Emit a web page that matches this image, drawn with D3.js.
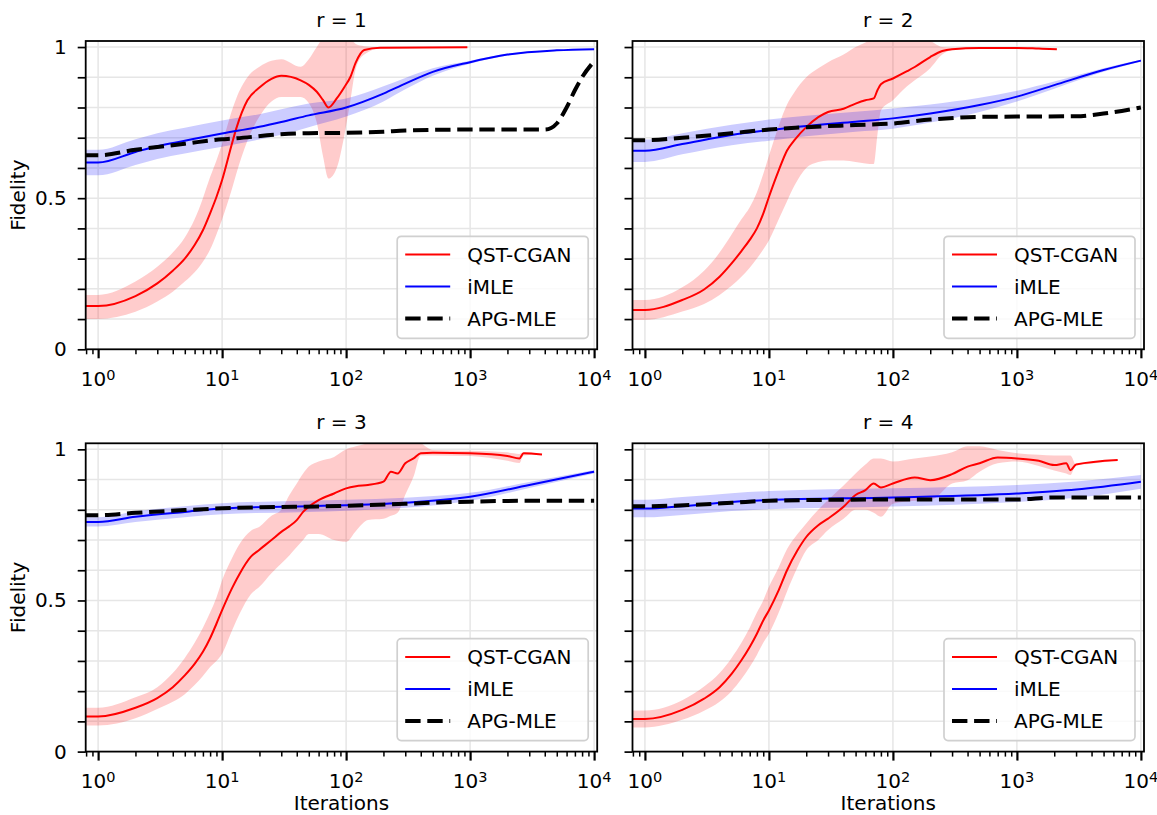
<!DOCTYPE html>
<html><head><meta charset="utf-8">
<script src="https://cdnjs.cloudflare.com/ajax/libs/d3/7.8.5/d3.min.js"></script>
<style>
body{margin:0;background:#fff;}
svg{display:block;}
text{font-family:"DejaVu Sans",sans-serif;fill:#000;}
</style>
</head><body>
<svg id="c" width="1157" height="815"></svg>
<script>
// ---------------- DATA ----------------
const panelTitles = ["r = 1", "r = 2", "r = 3", "r = 4"];
const seriesNames = ["QST-CGAN", "iMLE", "APG-MLE"];
const xTickExponents = [0, 1, 2, 3, 4];
const yTickValues = [0, 0.1, 0.2, 0.3, 0.4, 0.5, 0.6, 0.7, 0.8, 0.9, 1.0];
const yTickLabels = {0: "0", 0.5: "0.5", 1: "1"};

// QST-CGAN rows: [iteration, mean, lower, upper]
const qstR1 = [
 [0.5,0.143,0.10,0.18],[1,0.143,0.10,0.18],[2,0.176,0.124,0.224],[3,0.218,0.158,0.273],
 [4,0.26,0.19,0.32],[5,0.30,0.224,0.37],[6,0.345,0.255,0.43],[7,0.394,0.29,0.50],
 [8,0.45,0.33,0.57],[9,0.504,0.38,0.625],[10,0.56,0.43,0.68],[12,0.68,0.53,0.79],
 [13,0.73,0.58,0.83],[16,0.824,0.69,0.90],[20,0.866,0.77,0.935],[25,0.895,0.82,0.955],
 [30,0.905,0.835,0.96],[43,0.89,0.835,0.935],[50,0.875,0.815,0.96],[58,0.852,0.75,1.0],
 [65,0.825,0.64,1.03],[72,0.80,0.565,1.04],[84,0.83,0.60,1.04],[97,0.868,0.71,1.04],
 [108,0.90,0.82,1.03],[120,0.95,0.93,1.01],[140,0.99,0.975,1.003],[188,0.998,0.995,1.0],
 [950,0.999,0.998,1.0]
];
const qstR2 = [
 [0.5,0.13,0.097,0.163],[1,0.13,0.097,0.163],[2,0.163,0.125,0.205],[3,0.198,0.15,0.26],
 [4,0.24,0.18,0.32],[5,0.284,0.21,0.38],[6,0.325,0.24,0.43],[7,0.362,0.27,0.47],
 [8,0.40,0.30,0.52],[9,0.449,0.33,0.58],[10,0.504,0.36,0.64],[12,0.592,0.43,0.74],
 [14,0.658,0.49,0.81],[16,0.691,0.54,0.85],[20,0.735,0.60,0.90],[25,0.768,0.62,0.93],
 [30,0.785,0.625,0.95],[40,0.796,0.625,0.975],[50,0.813,0.62,1.0],[60,0.824,0.615,1.015],
 [70,0.83,0.613,1.03],[75,0.857,0.71,1.03],[80,0.877,0.79,1.03],[100,0.896,0.824,1.03],
 [130,0.92,0.87,1.03],[150,0.934,0.89,1.03],[200,0.967,0.93,1.02],[250,0.987,0.975,1.0],
 [300,0.993,0.99,0.998],[500,0.997,0.995,0.999],[1000,0.997,0.995,0.999],
 [1500,0.995,0.993,0.997],[2100,0.993,0.992,0.994]
];
const qstR3 = [
 [0.5,0.116,0.086,0.145],[1,0.116,0.086,0.145],[2,0.145,0.11,0.18],[3,0.177,0.141,0.213],
 [4,0.213,0.165,0.26],[5,0.252,0.19,0.31],[6,0.29,0.22,0.36],[7,0.33,0.25,0.41],
 [8,0.375,0.28,0.46],[9,0.423,0.30,0.51],[10,0.468,0.324,0.567],[12,0.54,0.40,0.64],
 [14,0.592,0.46,0.69],[17,0.644,0.52,0.73],[20,0.668,0.545,0.744],[25,0.70,0.59,0.78],
 [30,0.727,0.622,0.80],[35,0.746,0.65,0.85],[40,0.766,0.677,0.887],[45,0.793,0.70,0.92],
 [50,0.81,0.72,0.943],[60,0.832,0.72,0.96],[80,0.854,0.70,0.975],[100,0.871,0.694,1.0],
 [120,0.878,0.73,1.01],[150,0.882,0.766,1.02],[200,0.893,0.77,1.03],[230,0.926,0.78,1.03],
 [260,0.92,0.79,1.03],[300,0.954,0.85,1.03],[350,0.97,0.91,1.03],[400,0.987,0.98,1.02],
 [500,0.989,0.98,0.998],[1000,0.987,0.978,0.995],[2000,0.978,0.962,0.99],
 [2500,0.97,0.955,0.985],[2700,0.987,0.98,0.99],[3800,0.983,0.983,0.983]
];
const qstR4 = [
 [0.5,0.108,0.08,0.136],[1,0.108,0.08,0.136],[2,0.138,0.105,0.17],[3,0.175,0.135,0.215],
 [4,0.213,0.165,0.26],[5,0.257,0.20,0.31],[6,0.302,0.24,0.36],[7,0.346,0.28,0.41],
 [8,0.39,0.32,0.46],[9,0.434,0.36,0.50],[10,0.467,0.39,0.545],[12,0.534,0.46,0.61],
 [14,0.60,0.53,0.67],[17,0.666,0.61,0.72],[20,0.71,0.666,0.755],[25,0.749,0.70,0.80],
 [30,0.771,0.733,0.832],[40,0.81,0.77,0.88],[50,0.849,0.80,0.92],[60,0.865,0.80,0.95],
 [70,0.887,0.79,0.97],[80,0.874,0.777,0.97],[100,0.887,0.82,0.96],[150,0.907,0.83,0.97],
 [200,0.898,0.832,0.976],[300,0.918,0.887,0.99],[400,0.943,0.898,1.01],[500,0.954,0.926,1.01],
 [700,0.973,0.954,0.998],[1000,0.97,0.96,0.987],[1500,0.962,0.945,0.982],[2000,0.948,0.93,0.98],
 [2500,0.954,0.92,0.98],[2700,0.931,0.915,0.98],[3000,0.95,0.95,0.95],[6500,0.965,0.965,0.965]
];

// iMLE rows: [iteration, mean, lower, upper]
const imleR1 = [
 [0.5,0.618,0.576,0.66],[1,0.618,0.576,0.66],[2,0.653,0.61,0.695],[3,0.672,0.63,0.715],
 [5,0.69,0.648,0.733],[10,0.714,0.67,0.757],[20,0.736,0.694,0.778],[30,0.752,0.71,0.794],
 [50,0.774,0.735,0.813],[100,0.80,0.77,0.83],[200,0.846,0.82,0.87],[300,0.879,0.86,0.898],
 [500,0.918,0.905,0.93],[1000,0.95,0.945,0.955],[2000,0.975,0.972,0.978],
 [5000,0.989,0.988,0.99],[10000,0.993,0.993,0.993]
];
const imleR2 = [
 [0.5,0.657,0.62,0.694],[1,0.657,0.62,0.694],[2,0.679,0.645,0.715],[5,0.709,0.675,0.743],
 [10,0.725,0.69,0.76],[20,0.739,0.705,0.773],[50,0.753,0.72,0.786],[100,0.764,0.73,0.797],
 [200,0.78,0.75,0.81],[500,0.808,0.785,0.832],[1000,0.836,0.82,0.855],[2000,0.874,0.862,0.886],
 [5000,0.924,0.918,0.93],[10000,0.955,0.952,0.958]
];
const imleR3 = [
 [0.5,0.76,0.745,0.775],[1,0.76,0.745,0.775],[2,0.777,0.76,0.795],[5,0.793,0.775,0.812],
 [10,0.804,0.785,0.822],[50,0.812,0.793,0.83],[100,0.815,0.797,0.833],[300,0.823,0.807,0.84],
 [1000,0.843,0.83,0.856],[3000,0.882,0.872,0.892],[10000,0.926,0.92,0.932]
];
const imleR4 = [
 [0.5,0.804,0.775,0.833],[1,0.804,0.775,0.833],[2,0.812,0.783,0.842],[5,0.826,0.796,0.855],
 [10,0.832,0.802,0.862],[100,0.841,0.811,0.871],[1000,0.854,0.826,0.882],
 [3000,0.867,0.84,0.894],[10000,0.893,0.87,0.915]
];

// APG-MLE rows: [iteration, fidelity]
const apgR1 = [[0.5,0.642],[1,0.642],[2,0.66],[5,0.68],[10,0.695],[12,0.697],[29,0.711],[50,0.715],
 [100,0.716],[200,0.72],[300,0.724],[1000,0.727],[4000,0.727],[4500,0.732],[5000,0.747],
 [6000,0.80],[7000,0.857],[8000,0.90],[10000,0.953]];
const apgR2 = [[0.5,0.692],[1,0.692],[2,0.70],[5,0.715],[10,0.727],[20,0.735],[50,0.742],[100,0.747],
 [200,0.76],[500,0.769],[1000,0.77],[3000,0.771],[5000,0.78],[10000,0.80]];
const apgR3 = [[0.5,0.782],[1,0.782],[2,0.79],[5,0.799],[10,0.805],[100,0.813],[1000,0.827],
 [3000,0.83],[10000,0.83]];
const apgR4 = [[0.5,0.812],[1,0.812],[5,0.823],[10,0.83],[100,0.834],[1000,0.834],[2000,0.841],
 [10000,0.841]];

const qstAll = [qstR1, qstR2, qstR3, qstR4];
const imleAll = [imleR1, imleR2, imleR3, imleR4];
const apgAll = [apgR1, apgR2, apgR3, apgR4];

// ---------------- LAYOUT ----------------
const W = 511.5, H = 308.3;
const colLeft = [85.7, 632.5], rowTop = [41, 443.3];
const FONT = 20;
const DASH = "15.4,6.7";

const svg = d3.select("#c");
const x = d3.scaleLog().domain([0.794, Math.pow(10, 4.025)]).range([0, W]);
const y = d3.scaleLinear().domain([0, 1.02]).range([H, 0]);

const minorTicks = [];
for (let e = -1; e < 4; e++) for (let m = 1; m < 10; m++) {
  const v = m * Math.pow(10, e);
  if (m !== 1 && v >= 0.794 && v <= 10000) minorTicks.push(v);
}

panelTitles.forEach((title, i) => {
  const col = i % 2, row = Math.floor(i / 2);
  const g = svg.append("g").attr("transform", `translate(${colLeft[col]},${rowTop[row]})`);
  const clipId = "clip" + i;
  g.append("clipPath").attr("id", clipId).append("rect").attr("width", W).attr("height", H);

  // grid
  const grid = g.append("g");
  grid.selectAll("line.h").data(yTickValues.filter(v => v > 0)).join("line")
    .attr("x1", 0).attr("x2", W).attr("y1", d => y(d)).attr("y2", d => y(d))
    .attr("stroke", "#e6e6e6").attr("stroke-width", 1.5);
  grid.selectAll("line.v").data(xTickExponents.map(e => Math.pow(10, e))).join("line")
    .attr("y1", 0).attr("y2", H).attr("x1", d => x(d)).attr("x2", d => x(d))
    .attr("stroke", "#e6e6e6").attr("stroke-width", 1.5);

  const plot = g.append("g").attr("clip-path", `url(#${clipId})`);
  const area = d3.area().x(d => x(d[0])).y0(d => y(d[2])).y1(d => y(d[3])).curve(d3.curveMonotoneX);
  const lineM = d3.line().x(d => x(d[0])).y(d => y(d[1])).curve(d3.curveMonotoneX);

  plot.append("path").datum(qstAll[i]).attr("d", area).attr("fill", "rgba(255,0,0,0.2)");
  plot.append("path").datum(imleAll[i]).attr("d", area).attr("fill", "rgba(0,0,255,0.2)");
  plot.append("path").datum(qstAll[i]).attr("d", lineM).attr("fill", "none")
    .attr("stroke", "#ff0000").attr("stroke-width", 2);
  plot.append("path").datum(imleAll[i]).attr("d", lineM).attr("fill", "none")
    .attr("stroke", "#0000ff").attr("stroke-width", 2);
  plot.append("path").datum(apgAll[i]).attr("d", lineM).attr("fill", "none")
    .attr("stroke", "#000").attr("stroke-width", 4).attr("stroke-dasharray", DASH);

  // axes ticks
  const yAx = d3.axisLeft(y).tickValues(yTickValues).tickSize(8).tickPadding(11)
    .tickFormat(d => col === 0 ? (yTickLabels[Math.round(d * 10) / 10] || "") : "");
  const ya = g.append("g").call(yAx);
  ya.select(".domain").remove();
  ya.selectAll("line").attr("stroke", "#000").attr("stroke-width", 1.7);
  ya.selectAll("text").attr("font-size", FONT).attr("font-family", "DejaVu Sans").attr("fill", "#000");

  const xMaj = d3.axisBottom(x).tickValues(xTickExponents.map(e => Math.pow(10, e))).tickSize(9).tickFormat("");
  const xa = g.append("g").attr("transform", `translate(0,${H})`).call(xMaj);
  xa.select(".domain").remove();
  xa.selectAll("line").attr("stroke", "#000").attr("stroke-width", 2.2);
  const xMin = d3.axisBottom(x).tickValues(minorTicks).tickSize(5).tickFormat("");
  const xm = g.append("g").attr("transform", `translate(0,${H})`).call(xMin);
  xm.select(".domain").remove();
  xm.selectAll("line").attr("stroke", "#000").attr("stroke-width", 1.5);

  // x tick labels 10^e
  xTickExponents.forEach(e => {
    const t = g.append("text").attr("x", x(Math.pow(10, e))).attr("y", H + 36.4)
      .attr("text-anchor", "middle").attr("font-size", FONT);
    t.append("tspan").text("10");
    t.append("tspan").attr("font-size", 14.5).attr("dy", -6).text(String(e));
  });

  // spines
  g.append("rect").attr("width", W).attr("height", H).attr("fill", "none")
    .attr("stroke", "#000").attr("stroke-width", 1.8);

  // title
  g.append("text").attr("x", W / 2).attr("y", -14).attr("text-anchor", "middle")
    .attr("font-size", FONT).text(title);

  if (col === 0) {
    g.append("text").attr("transform", `translate(${25 - colLeft[0]},${H / 2}) rotate(-90)`)
      .attr("text-anchor", "middle").attr("font-size", FONT).text("Fidelity");
  }
  if (row === 1) {
    g.append("text").attr("x", W / 2).attr("y", H + 58.5).attr("text-anchor", "middle")
      .attr("font-size", FONT).text("Iterations");
  }

  // legend
  const lw = 191, lh = 102;
  const lg = g.append("g").attr("transform", `translate(${W - 9 - lw},${H - 11 - lh})`);
  lg.append("rect").attr("width", lw).attr("height", lh).attr("rx", 4)
    .attr("fill", "rgba(255,255,255,0.8)").attr("stroke", "#d0d0d0").attr("stroke-width", 1.7);
  const styles = [
    {stroke: "#ff0000", w: 2, dash: null},
    {stroke: "#0000ff", w: 2, dash: null},
    {stroke: "#000", w: 4, dash: DASH}
  ];
  seriesNames.forEach((name, k) => {
    const cy = 18.3 + k * 32;
    const ln = lg.append("line").attr("x1", 8).attr("x2", 53).attr("y1", cy).attr("y2", cy)
      .attr("stroke", styles[k].stroke).attr("stroke-width", styles[k].w);
    if (styles[k].dash) ln.attr("stroke-dasharray", styles[k].dash);
    lg.append("text").attr("x", 70).attr("y", cy + 7.3).attr("font-size", FONT).text(name);
  });
});
</script>
</body></html>
